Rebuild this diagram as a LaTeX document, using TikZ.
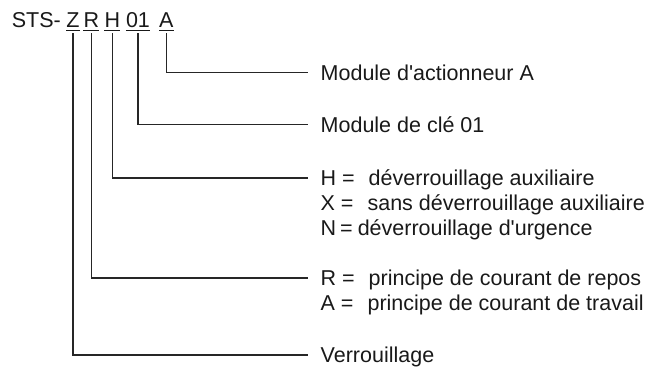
\documentclass[tikz,border=0pt]{standalone}
\usepackage{fontspec}
\setmainfont{Liberation Sans}
\begin{document}
\begin{tikzpicture}[x=1pt,y=-1pt,
  txt/.style={inner sep=0pt, anchor=base west, text=black!90, font=\fontsize{21.5}{25}\selectfont},
  uline/.style={line width=0.9pt, black!90},
  conn/.style={line width=1.1pt, black!85},
]
\useasboundingbox (0,0) rectangle (657,367);
% header
\node[txt] (sts) at (11.7,27.3) {STS-};
\node[txt] (z) at (66.2,27.3) {Z};
\node[txt] (r) at (83.3,27.3) {R};
\node[txt] (h) at (104.3,27.3) {H};
\node[txt] (n01) at (125.8,27.3) {01};
\node[txt] (a) at (159,27.3) {A};
\foreach \n in {z,r,h,n01,a}
  \draw[uline] ([yshift=-3.5pt]\n.base west) -- ([yshift=-3.5pt]\n.base east);
% labels
\node[txt] (la) at (320.5,80) {Module d\textquotesingle actionneur A};
\node[txt] (l01) at (320.5,132) {Module de clé 01};
\node[txt] (lh1) at (320.5,185.5) {H =\hspace{14pt}déverrouillage auxiliaire};
\node[txt] (lh2) at (320.5,210.5) {X =\hspace{14pt}sans déverrouillage auxiliaire};
\node[txt] (lh3) at (320.5,235.5) {N\hspace{4pt}=\hspace{5pt}déverrouillage d\textquotesingle urgence};
\node[txt] (lr1) at (320.5,285.5) {R =\hspace{14pt}principe de courant de repos};
\node[txt] (lr2) at (320.5,310.5) {A =\hspace{14pt}principe de courant de travail};
\node[txt] (lv) at (320.5,362.5) {Verrouillage};
% connectors
\draw[conn] ([yshift=-6pt]a.base) |- ([xshift=-12.5pt,yshift=7.5pt]la.base west);
\draw[conn] ([yshift=-6pt]n01.base) |- ([xshift=-12.5pt,yshift=7.5pt]l01.base west);
\draw[conn] ([yshift=-6pt]h.base) |- ([xshift=-12.5pt,yshift=7.5pt]lh1.base west);
\draw[conn] ([yshift=-6pt]r.base) |- ([xshift=-12.5pt,yshift=7.5pt]lr1.base west);
\draw[conn] ([yshift=-6pt]z.base) |- ([xshift=-12.5pt,yshift=7.5pt]lv.base west);
\end{tikzpicture}
\end{document}
